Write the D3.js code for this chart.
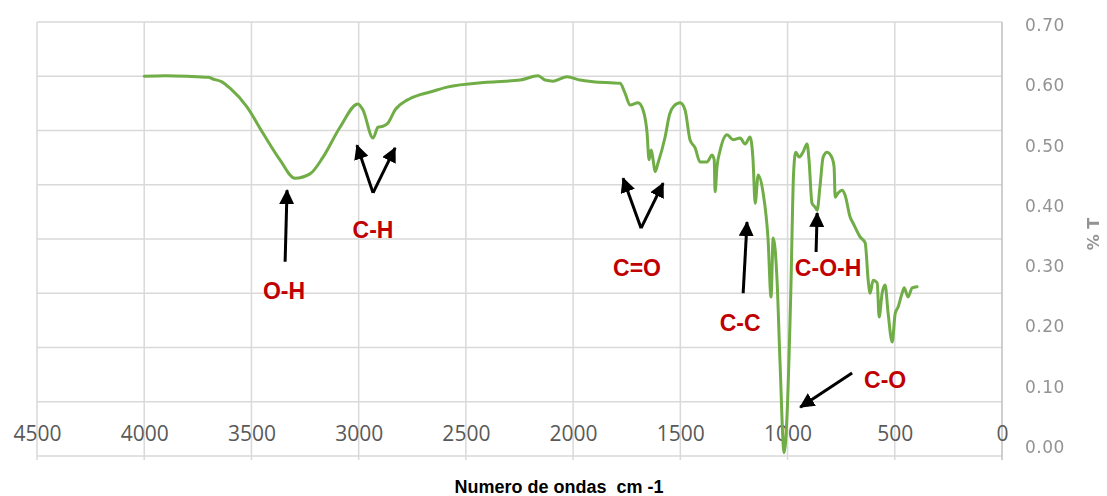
<!DOCTYPE html>
<html>
<head>
<meta charset="utf-8">
<script src="https://cdn.jsdelivr.net/npm/d3@7"></script>
<style>
  body { margin: 0; background: #fff; }
</style>
</head>
<body>
<div id="chart"></div>
<script>
// SVG size
var svgWidth = 1107;
var svgHeight = 496;

// Spectrum (wavenumber cm-1, transmittance)
var waveNumbers = [4000, 3900, 3800, 3700, 3679, 3640, 3600, 3522, 3446, 3367, 3297, 3227, 3166, 3087, 3003,
  2980, 2933, 2910, 2886, 2863, 2830, 2774, 2714, 2667, 2588, 2401, 2247, 2163, 2131, 2093, 2028,
  1967, 1907, 1781, 1758, 1734, 1697, 1674, 1655, 1646, 1636, 1627, 1618, 1604, 1571, 1550, 1530,
  1501, 1478, 1455, 1431, 1408, 1375, 1352, 1342, 1338, 1329, 1314, 1282, 1254, 1221, 1198, 1175,
  1161, 1151, 1137, 1114, 1091, 1077, 1067, 1049, 1035, 1016, 1002, 985, 972, 962, 946, 928, 909,
  900, 886, 872, 862, 849, 834, 816, 792, 783, 778, 764, 745, 732, 708, 694, 662, 638, 624, 615,
  601, 582, 573, 559, 545, 531, 512, 498, 484, 466, 456, 438, 419, 396];
var transmittance = [0.600, 0.601, 0.600, 0.598, 0.595, 0.590, 0.578, 0.544, 0.495, 0.446, 0.412, 0.420, 0.451, 0.506, 0.549,
  0.538, 0.486, 0.506, 0.508, 0.514, 0.538, 0.556, 0.566, 0.571, 0.580, 0.589, 0.593, 0.601, 0.593, 0.591, 0.599,
  0.593, 0.590, 0.587, 0.569, 0.547, 0.551, 0.538, 0.495, 0.446, 0.464, 0.446, 0.424, 0.440, 0.488, 0.530, 0.545,
  0.551, 0.538, 0.483, 0.468, 0.442, 0.442, 0.455, 0.446, 0.387, 0.433, 0.464, 0.492, 0.483, 0.486, 0.475, 0.488,
  0.446, 0.366, 0.418, 0.385, 0.300, 0.193, 0.302, 0.224, 0.071, -0.094, -0.021, 0.200, 0.420, 0.460, 0.451, 0.460, 0.475,
  0.446, 0.366, 0.359, 0.353, 0.396, 0.451, 0.460, 0.449, 0.433, 0.377, 0.385, 0.390, 0.381, 0.340, 0.329, 0.304, 0.293, 0.224, 0.200,
  0.224, 0.219, 0.156, 0.200, 0.215, 0.163, 0.110, 0.163, 0.175, 0.200, 0.210, 0.193, 0.210, 0.212];

// Axis ticks
var xTicks = [4500, 4000, 3500, 3000, 2500, 2000, 1500, 1000, 500, 0];
var gridTicks = [-0.1, 0, 0.1, 0.2, 0.3, 0.4, 0.5, 0.6, 0.7];
var rightTicks = [0, 0.1, 0.2, 0.3, 0.4, 0.5, 0.6, 0.7];

// Band annotations: label, label position, arrow tails and tips (data units)
var bandLabels = ["O-H", "C-H", "C=O", "C-C", "C-O-H", "C-O"];
var labelX = [3348, 2933, 1702, 1221, 811, 545];
var labelY = [0.204, 0.317, 0.247, 0.145, 0.247, 0.040];
var arrowFromX = [3343, 2933, 2933, 1683, 1683, 1207, 867, 699];
var arrowFromY = [0.258, 0.385, 0.385, 0.320, 0.320, 0.200, 0.276, 0.053];
var arrowToX = [3334, 3008, 2830, 1767, 1580, 1189, 862, 941];
var arrowToY = [0.390, 0.473, 0.468, 0.412, 0.403, 0.331, 0.348, -0.010];

var plot = { left: 37, right: 1002, top: 22, bottom: 456 };

var svg = d3.select("#chart")
  .append("svg")
  .attr("width", svgWidth)
  .attr("height", svgHeight);

var xScale = d3.scaleLinear()
  .domain([4500, 0])
  .range([plot.left, plot.right]);

// primary scale carries the gridlines and the curve
var yScale = d3.scaleLinear()
  .domain([-0.1, 0.7])
  .range([plot.bottom, plot.top]);

// secondary axis on the right (labels only)
var yRight = d3.scaleLinear()
  .domain([0, 0.7])
  .range([447, 25]);

var defs = svg.append("defs");
defs.append("filter").attr("id", "soft")
  .append("feGaussianBlur").attr("stdDeviation", 0.6);
defs.append("marker")
  .attr("id", "head")
  .attr("markerUnits", "userSpaceOnUse")
  .attr("viewBox", "0 0 14 14")
  .attr("refX", 13)
  .attr("refY", 7)
  .attr("markerWidth", 15)
  .attr("markerHeight", 15)
  .attr("orient", "auto")
  .append("path")
  .attr("d", "M0,0 L14,7 L0,14 Z")
  .attr("fill", "#000");

// gridlines
svg.append("g").selectAll("line")
  .data(gridTicks)
  .enter()
  .append("line")
  .attr("x1", plot.left)
  .attr("x2", plot.right)
  .attr("y1", d => yScale(d))
  .attr("y2", d => yScale(d))
  .attr("stroke", "#d9d9d9")
  .attr("stroke-width", 1.5);

svg.append("g").selectAll("line")
  .data(xTicks)
  .enter()
  .append("line")
  .attr("x1", d => xScale(d))
  .attr("x2", d => xScale(d))
  .attr("y1", plot.top)
  .attr("y2", plot.bottom + 4)
  .attr("stroke", d => d === 0 ? "#bfbfbf" : "#d9d9d9")
  .attr("stroke-width", 1.5);

// x axis labels (axis line itself is the 0 gridline)
var bottomAxis = d3.axisBottom(xScale)
  .tickValues(xTicks)
  .tickSize(0)
  .tickPadding(0)
  .tickFormat(d3.format("d"));

var xAxisG = svg.append("g")
  .attr("transform", `translate(0, ${yScale(0)})`)
  .call(bottomAxis);
xAxisG.select(".domain").remove();
xAxisG.selectAll("text")
  .attr("dy", 0)
  .attr("y", 39)
  .style("font-family", "'Open Sans', sans-serif")
  .style("font-size", "21px")
  .attr("fill", "#595959");

// right axis labels
var rightAxis = d3.axisRight(yRight)
  .tickValues(rightTicks)
  .tickSize(0)
  .tickPadding(0)
  .tickFormat(d3.format(".2f"));

var yAxisG = svg.append("g")
  .attr("transform", "translate(1025, 0)")
  .call(rightAxis);
yAxisG.select(".domain").remove();
yAxisG.selectAll("text")
  .style("font-family", "'DejaVu Sans', sans-serif")
  .style("font-size", "17px")
  .style("letter-spacing", "0.5px")
  .attr("fill", "#939393")
  .attr("filter", "url(#soft)");

svg.append("text")
  .attr("transform", "translate(1099, 234) rotate(-90)")
  .attr("text-anchor", "middle")
  .style("font-family", "'DejaVu Sans', sans-serif")
  .style("font-size", "16px")
  .style("font-weight", "bold")
  .attr("fill", "#939393")
  .attr("filter", "url(#soft)")
  .text("% T");

// axis title
svg.append("text")
  .attr("x", 559)
  .attr("y", 493)
  .attr("text-anchor", "middle")
  .style("white-space", "pre")
  .style("font-family", "'Liberation Sans', Arial, sans-serif")
  .style("font-size", "18px")
  .style("font-weight", "bold")
  .attr("fill", "#000")
  .text("Numero de ondas  cm -1");

// spectrum
var spectrum = waveNumbers.map((w, i) => ({ w: w, t: transmittance[i] }));
var line = d3.line()
  .x(d => xScale(d.w))
  .y(d => yScale(d.t))
  .curve(d3.curveMonotoneX);

svg.append("path")
  .datum(spectrum)
  .attr("d", line)
  .attr("fill", "none")
  .attr("stroke", "#70ad47")
  .attr("stroke-width", 3)
  .attr("stroke-linejoin", "round")
  .attr("stroke-linecap", "round");

// arrows
svg.append("g").selectAll("line")
  .data(arrowFromX.map((x, i) => i))
  .enter()
  .append("line")
  .attr("x1", i => xScale(arrowFromX[i]))
  .attr("y1", i => yScale(arrowFromY[i]))
  .attr("x2", i => xScale(arrowToX[i]))
  .attr("y2", i => yScale(arrowToY[i]))
  .attr("stroke", "#000")
  .attr("stroke-width", 3)
  .attr("marker-end", "url(#head)");

// band labels
svg.append("g").selectAll("text")
  .data(bandLabels)
  .enter()
  .append("text")
  .attr("x", (d, i) => xScale(labelX[i]))
  .attr("y", (d, i) => yScale(labelY[i]))
  .attr("dy", "0.36em")
  .attr("text-anchor", "middle")
  .style("font-family", "'Liberation Sans', Arial, sans-serif")
  .style("font-size", "23px")
  .style("font-weight", "bold")
  .attr("fill", "#c00000")
  .text(d => d);
</script>
</body>
</html>
